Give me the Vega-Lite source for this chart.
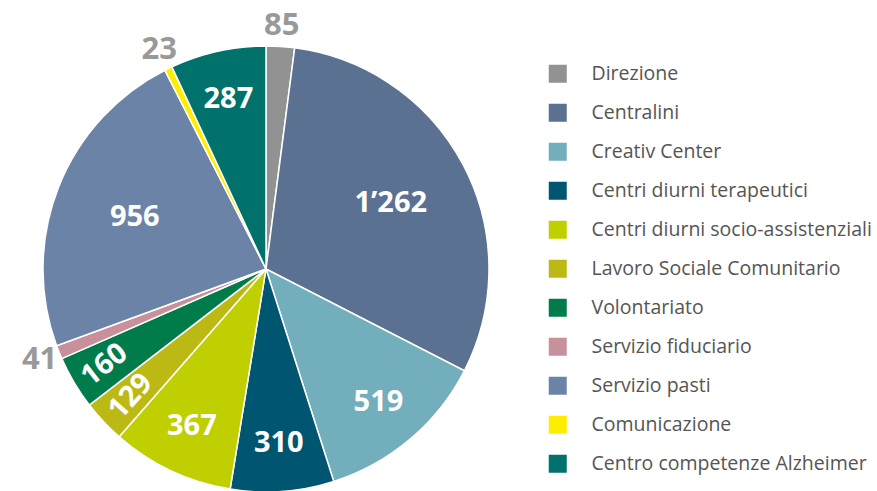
{
  "$schema": "https://vega.github.io/schema/vega-lite/v6.json",
  "width": 532,
  "height": 444,
  "autosize": {"type": "none"},
  "padding": {"left": 0, "top": 47, "right": 345, "bottom": 0},
  "background": "white",
  "config": {
    "view": {"stroke": null},
    "font": "Open Sans",
    "locale": {"number": {"decimal": ".", "thousands": "’", "grouping": [3], "currency": ["", ""]}}
  },
  "data": {
    "values": [
      {"category": "Direzione", "value": 85, "order": 1},
      {"category": "Centralini", "value": 1262, "order": 2},
      {"category": "Creativ Center", "value": 519, "order": 3},
      {"category": "Centri diurni terapeutici", "value": 310, "order": 4},
      {"category": "Centri diurni socio-assistenziali", "value": 367, "order": 5},
      {"category": "Lavoro Sociale Comunitario", "value": 129, "order": 6},
      {"category": "Volontariato", "value": 160, "order": 7},
      {"category": "Servizio fiduciario", "value": 41, "order": 8},
      {"category": "Servizio pasti", "value": 956, "order": 9},
      {"category": "Comunicazione", "value": 23, "order": 10},
      {"category": "Centro competenze Alzheimer", "value": 287, "order": 11}
    ]
  },
  "encoding": {
    "theta": {"field": "value", "type": "quantitative", "stack": true},
    "order": {"field": "order", "type": "quantitative"}
  },
  "layer": [
    {
      "mark": {"type": "arc", "outerRadius": 223, "stroke": "white", "strokeWidth": 1.5},
      "encoding": {
        "color": {
          "field": "category",
          "type": "nominal",
          "scale": {
            "domain": ["Direzione", "Centralini", "Creativ Center", "Centri diurni terapeutici", "Centri diurni socio-assistenziali", "Lavoro Sociale Comunitario", "Volontariato", "Servizio fiduciario", "Servizio pasti", "Comunicazione", "Centro competenze Alzheimer"],
            "range": ["#929292", "#5b7191", "#72aebb", "#005670", "#c0cf00", "#bdb914", "#007c4a", "#c8909a", "#6c83a8", "#ffed00", "#00716b"]
          },
          "legend": {
            "orient": "none",
            "legendX": 548,
            "legendY": 17,
            "title": null,
            "symbolType": "square",
            "symbolSize": 324,
            "symbolStrokeWidth": 0,
            "symbolOpacity": 1,
            "labelFontSize": 19.5,
            "labelFont": "Open Sans",
            "labelColor": "#555555",
            "labelOffset": 24,
            "rowPadding": 18,
            "labelLimit": 400
          }
        }
      }
    },
    {
      "mark": {"type": "text", "radius": 141, "fontSize": 29, "fontWeight": "bold", "fill": "white"},
      "encoding": {
        "text": {"field": "value", "type": "quantitative", "format": ",d"},
        "opacity": {"condition": {"test": "datum.category === 'Centralini' || datum.category === 'Servizio pasti'", "value": 1}, "value": 0}
      }
    },
    {
      "mark": {"type": "text", "radius": 174, "fontSize": 29, "fontWeight": "bold", "fill": "white"},
      "encoding": {
        "text": {"field": "value", "type": "quantitative", "format": ",d"},
        "opacity": {"condition": {"test": "indexof(['Creativ Center','Centri diurni terapeutici','Centri diurni socio-assistenziali','Centro competenze Alzheimer'], datum.category) >= 0", "value": 1}, "value": 0}
      }
    },
    {
      "mark": {"type": "text", "radius": 188, "fontSize": 29, "fontWeight": "bold", "fill": "white", "angle": 322},
      "encoding": {
        "text": {"field": "value", "type": "quantitative", "format": ",d"},
        "opacity": {"condition": {"test": "datum.category === 'Volontariato'", "value": 1}, "value": 0}
      }
    },
    {
      "mark": {"type": "text", "radius": 186, "fontSize": 29, "fontWeight": "bold", "fill": "white", "angle": 312},
      "encoding": {
        "text": {"field": "value", "type": "quantitative", "format": ",d"},
        "opacity": {"condition": {"test": "datum.category === 'Lavoro Sociale Comunitario'", "value": 1}, "value": 0}
      }
    },
    {
      "mark": {"type": "text", "radius": 244, "fontSize": 31, "fontWeight": "bold", "fill": "#999999"},
      "encoding": {
        "text": {"field": "value", "type": "quantitative", "format": ",d"},
        "opacity": {"condition": {"test": "indexof(['Direzione','Servizio fiduciario','Comunicazione'], datum.category) >= 0", "value": 1}, "value": 0}
      }
    }
  ]
}
